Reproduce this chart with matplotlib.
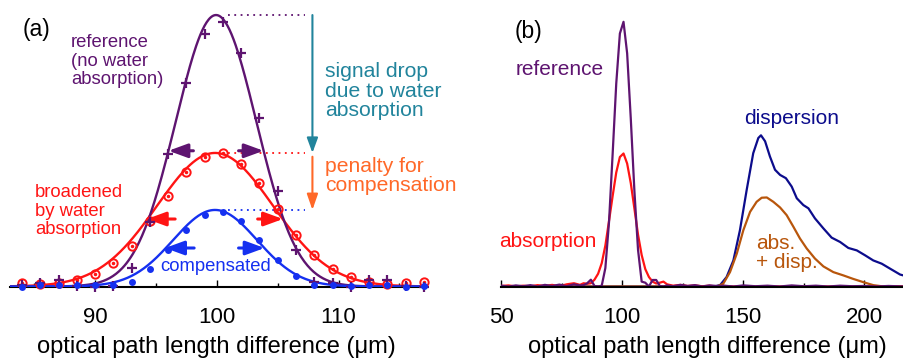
import numpy as np
import matplotlib
matplotlib.use("Agg")
import matplotlib.pyplot as plt

plt.rcParams["font.family"] = ["Liberation Sans", "DejaVu Sans"]

purple = "#5e1470"
red = "#ff1414"
blue = "#1530f0"
teal = "#21849c"
orange = "#ff6828"
navy = "#0c0c8c"
brown = "#b8560c"

# ---- panel (a): measured points (1.5 um sampling) ----
x_a = [84, 85.5, 87, 88.5, 90, 91.5, 93, 94.5, 96, 97.5, 99, 100.5,
       102, 103.5, 105, 106.5, 108, 109.5, 111, 112.5, 114, 115.5, 117]
ref_pts = [0.005, 0.012, 0.025, 0.002, 0.0, 0.003, 0.068, 0.236, 0.487, 0.748, 0.932, 0.975,
           0.859, 0.619, 0.352, 0.135, 0.018, 0.014, 0.0, 0.024, 0.024, 0.002, 0.0]
abs_pts = [0.012, 0.01, 0.012, 0.025, 0.047, 0.086, 0.151, 0.241, 0.333, 0.42, 0.477, 0.49,
           0.453, 0.381, 0.287, 0.191, 0.116, 0.064, 0.035, 0.018, 0.011, 0.014, 0.018]
comp_pts = [0.0, 0.004, 0.006, 0.004, 0.004, 0.004, 0.018, 0.065, 0.135, 0.209, 0.262, 0.274,
            0.241, 0.173, 0.098, 0.037, 0.004, 0.004, 0.002, 0.004, 0.004, 0.0, 0.002]

# gaussian fits: reference, broadened, compensated
fit_center = [99.93, 99.85, 99.85]
fit_amp = [1.0, 0.492, 0.282]
fit_sigma = [3.32, 4.75, 3.45]

# ---- panel (b): full traces ----
noise_x_left = [50, 53, 56, 59, 62, 65, 68, 71, 74, 77, 80, 82.5]
ref_left = [0.003, 0.0, 0.004, 0.001, 0.005, 0.0, 0.006, 0.002, 0.007, 0.001, 0.008, 0.004]
abs_left = [0.002, 0.004, 0.0, 0.003, 0.001, 0.005, 0.002, 0.006, 0.001, 0.008, 0.012, 0.006]
noise_x_right = [118.5, 121, 124, 127, 130, 133, 136, 139, 142, 146, 150, 155,
                 160, 165, 170, 175, 180, 185, 190, 195, 200, 205, 210, 216.5]
ref_right = [0.004, 0.001, 0.006, 0.002, 0.005, 0.0, 0.004, 0.002, 0.003, 0.0, 0.004, 0.001,
             0.003, 0.0, 0.004, 0.001, 0.003, 0.0, 0.003, 0.001, 0.002, 0.0, 0.002, 0.0]
abs_right = [0.008, 0.003, 0.006, 0.002, 0.004, 0.001, 0.003, 0.0, 0.002, 0.0, 0.001, 0.0,
             0.0, 0.0, 0.0, 0.0, 0.0, 0.0, 0.0, 0.0, 0.0, 0.0, 0.0, 0.0]

disp_x = [50, 138, 140.4, 143.1, 145.9, 148.6, 151.4, 154.1, 156.2, 157.3, 159, 161,
          163.1, 165.2, 167.6, 170, 172.1, 174.8, 176.9, 179.6, 183.1, 186.5, 190,
          193.4, 196.9, 200.3, 203.7, 207.2, 210.6, 214.8, 216.5]
disp_y = [0, 0, 0.005, 0.035, 0.096, 0.207, 0.356, 0.491, 0.547, 0.557, 0.535, 0.479,
          0.43, 0.411, 0.399, 0.368, 0.325, 0.3, 0.288, 0.251, 0.214, 0.18, 0.164,
          0.142, 0.133, 0.115, 0.096, 0.084, 0.066, 0.044, 0.04]
absdisp_x = [50, 139, 141.7, 144.5, 147.3, 150, 152.8, 155.5, 157.6, 159.7, 162.4, 165.2,
             167.9, 170.7, 173.4, 176.2, 179.6, 183.1, 187.2, 191.3, 195.4, 199.6, 203.7,
             208, 216.5]
absdisp_y = [0, 0, 0.01, 0.053, 0.121, 0.207, 0.275, 0.312, 0.327, 0.328, 0.312, 0.291,
             0.263, 0.22, 0.177, 0.14, 0.103, 0.074, 0.053, 0.041, 0.028, 0.016, 0.005,
             0, 0]


def style_axis(ax, major, minor):
    for s in ("top", "left", "right"):
        ax.spines[s].set_visible(False)
    ax.spines["bottom"].set_linewidth(1.5)
    ax.set_yticks([])
    ax.set_xticks(major)
    ax.set_xticks(minor, minor=True)
    ax.tick_params(axis="x", which="major", direction="in", length=5, width=1,
                   labelsize=16, pad=15)
    ax.tick_params(axis="x", which="minor", direction="in", length=3, width=1)
    ax.patch.set_alpha(0)


fig = plt.figure(figsize=(9.04, 3.6), dpi=100)
ax_a = fig.add_axes([10 / 904, 73.5 / 360, 415 / 904, 281.5 / 360])
ax_b = fig.add_axes([501.3 / 904, 73.5 / 360, 402.7 / 904, 281.5 / 360])

# ---------- (a) ----------
ax_a.set_xlim(83.0, 117.1)
ax_a.set_ylim(0, 1.037)
xf = np.linspace(83.0, 117.1, 400)
fits = [np.array(fit_amp[i]) * np.exp(-(xf - fit_center[i]) ** 2 / (2 * fit_sigma[i] ** 2))
        for i in range(3)]
ax_a.plot(xf, fits[1], color=red, lw=1.7, zorder=3)
ax_a.plot(xf, fits[0], color=purple, lw=1.7, zorder=3)
ax_a.plot(xf, fits[2], color=blue, lw=1.7, zorder=3)
ax_a.plot(x_a, abs_pts, "o", mfc="none", mec=red, ms=6, mew=1.4, clip_on=False, zorder=4)
ax_a.plot(x_a, abs_pts, ".", color=red, ms=3, clip_on=False, zorder=4)
ax_a.plot(x_a, ref_pts, "+", color=purple, ms=7.5, mew=1.6, clip_on=False, zorder=5)
ax_a.plot(x_a, comp_pts, "o", color=blue, ms=5, mew=0, clip_on=False, zorder=6)

# dotted level lines
for lvl, c in zip(fit_amp, [purple, red, blue]):
    ax_a.plot([100.93, 107.27], [lvl, lvl], ls=(0, (1, 2.5)), color=c, lw=1.3)


def arrow(ax, tail, tip, c, lw, hl, hw):
    ax.annotate("", xy=tip, xytext=tail,
                arrowprops=dict(arrowstyle=f"-|>,head_length={hl},head_width={hw}",
                                color=c, lw=lw, shrinkA=0, shrinkB=0, mutation_scale=10),
                annotation_clip=False)


# FWHM arrows
arrow(ax_a, (98.07, 0.5), (96.02, 0.5), purple, 2.2, 1.15, 0.42)
arrow(ax_a, (101.78, 0.5), (103.84, 0.5), purple, 2.2, 1.15, 0.42)
arrow(ax_a, (96.57, 0.2486), (94.24, 0.2486), red, 2.2, 1.15, 0.42)
arrow(ax_a, (103.35, 0.2486), (105.43, 0.2486), red, 2.2, 1.15, 0.42)
arrow(ax_a, (98.13, 0.1418), (95.74, 0.1418), blue, 2.2, 1.15, 0.42)
arrow(ax_a, (101.78, 0.1418), (103.92, 0.1418), blue, 2.2, 1.15, 0.42)

# vertical arrows
arrow(ax_a, (107.85, 1.0), (107.85, 0.492), teal, 1.5, 0.9, 0.33)
arrow(ax_a, (107.85, 0.478), (107.85, 0.282), orange, 1.5, 0.95, 0.33)

ax_a.text(84.03, 0.945, "(a)", fontsize=16.5, va="center", ha="left")
ax_a.text(88.01, 0.8306, "reference\n(no water\nabsorption)", color=purple, fontsize=13.3,
          va="center", ha="left", linespacing=1.09)
ax_a.text(108.91, 0.72, "signal drop\ndue to water\nabsorption", color=teal, fontsize=15.2,
          va="center", ha="left", linespacing=1.02)
ax_a.text(108.91, 0.407, "penalty for\ncompensation", color=orange, fontsize=15.2,
          va="center", ha="left", linespacing=1.02)
ax_a.text(85.05, 0.278, "broadened\nby water\nabsorption", color=red, fontsize=13.3,
          va="center", ha="left", linespacing=1.09)
ax_a.text(95.33, 0.0755, "compensated", color=blue, fontsize=13.3, va="center", ha="left")

style_axis(ax_a, [90, 100, 110], [85, 95, 105, 115])
ax_a.set_xlabel("optical path length difference (μm)", fontsize=17)
ax_a.xaxis.set_label_coords(0.4975, -0.215)
ax_a.xaxis.label.set_verticalalignment("center")

# ---------- (b) ----------
ax_b.set_xlim(50, 216.4)
ax_b.set_ylim(0, 1.037)
ref_bx = noise_x_left + x_a + noise_x_right
ax_b.plot(disp_x, disp_y, color=navy, lw=1.6)
ax_b.plot(absdisp_x, absdisp_y, color=brown, lw=1.6)
ax_b.plot(ref_bx, abs_left + abs_pts + abs_right, color=red, lw=1.6)
ax_b.plot(ref_bx, ref_left + ref_pts + ref_right, color=purple, lw=1.6)

ax_b.text(55.66, 0.941, "(b)", fontsize=16.5, va="center", ha="left")
ax_b.text(56.07, 0.8, "reference", color=purple, fontsize=15, va="center", ha="left")
ax_b.text(49.05, 0.1667, "absorption", color=red, fontsize=15, va="center", ha="left",
          clip_on=False)
ax_b.text(150.3, 0.6185, "dispersion", color=navy, fontsize=15, va="center", ha="left")
ax_b.text(155.2, 0.124, "abs.\n+ disp.", color=brown, fontsize=15, va="center", ha="left",
          linespacing=1.02)

style_axis(ax_b, [50, 100, 150, 200], [75, 125, 175])
ax_b.set_xlabel("optical path length difference (μm)", fontsize=17)
ax_b.xaxis.set_label_coords(0.512, -0.215)
ax_b.xaxis.label.set_verticalalignment("center")

fig.savefig("out.png", dpi=100)
